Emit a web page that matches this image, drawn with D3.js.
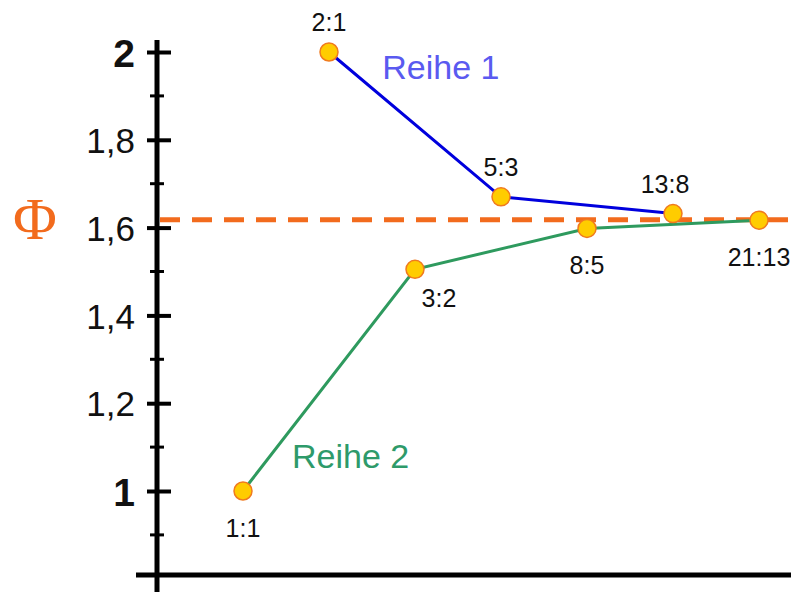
<!DOCTYPE html>
<html><head><meta charset="utf-8">
<script src="https://cdn.jsdelivr.net/npm/d3@7"></script>
<style>body{margin:0;background:#fff}svg{display:block}</style>
</head><body>
<svg id="c" width="799" height="592"></svg>
<script>
// Data
const series1Labels = ["2:1", "5:3", "13:8"];
const series1Index  = [2, 4, 6];
const series1Values = [2.0, 1.67, 1.632];

const series2Labels = ["1:1", "3:2", "8:5", "21:13"];
const series2Index  = [1, 3, 5, 7];
const series2Values = [1.0, 1.505, 1.598, 1.617];

const majorTicks = [1, 1.2, 1.4, 1.6, 1.8, 2];
const majorTickLabels = ["1", "1,2", "1,4", "1,6", "1,8", "2"];
const minorTicks = [0.9, 1.1, 1.3, 1.5, 1.7, 1.9];
const phiValue = 1.618;
const seriesNames = ["Reihe 1", "Reihe 2"];

const svg = d3.select("#c");
const x = d3.scaleLinear().domain([0, 7]).range([157, 759]);
const y = d3.scaleLinear().domain([1, 2]).range([491, 52]);

const FONT = "'Liberation Sans', Arial, sans-serif";

// phi line
svg.append("line")
  .attr("x1", 160).attr("x2", 799)
  .attr("y1", y(phiValue)).attr("y2", y(phiValue))
  .attr("stroke", "#F26B1D").attr("stroke-width", 5)
  .attr("stroke-dasharray", "20,12");
svg.append("text")
  .attr("x", 35).attr("y", y(phiValue) + 19)
  .attr("text-anchor", "middle")
  .attr("font-family", "'Liberation Serif', 'Times New Roman', serif")
  .attr("font-size", 60).attr("fill", "#F26B1D")
  .text("\u03A6");

// x axis line
svg.append("line")
  .attr("x1", 136).attr("x2", 791)
  .attr("y1", 575).attr("y2", 575)
  .attr("stroke", "#000").attr("stroke-width", 5);

// y axis
const yAxis = d3.axisLeft(y).tickValues(majorTicks)
  .tickFormat((d, i) => majorTickLabels[i]).tickSize(0).tickPadding(22);
const gy = svg.append("g").attr("transform", "translate(157,0)").call(yAxis);
gy.select(".domain").remove();
gy.selectAll(".tick text")
  .attr("font-family", FONT)
  .attr("fill", "#111")
  .attr("font-size", d => (d === 1 || d === 2) ? 39 : 35)
  .attr("font-weight", d => (d === 1 || d === 2) ? "bold" : "normal")
  .attr("dy", "0.36em");
gy.selectAll(".tick line")
  .attr("x1", -10).attr("x2", 14)
  .attr("stroke", "#000").attr("stroke-width", 4);

svg.append("line")
  .attr("x1", 157).attr("x2", 157)
  .attr("y1", 40).attr("y2", 592)
  .attr("stroke", "#000").attr("stroke-width", 5);

svg.append("g").selectAll("line").data(minorTicks).join("line")
  .attr("x1", 150).attr("x2", 164)
  .attr("y1", d => y(d)).attr("y2", d => y(d))
  .attr("stroke", "#000").attr("stroke-width", 3);

// series lines
const line = d3.line().x(d => x(d.i)).y(d => y(d.v));
const s1 = series1Index.map((i, k) => ({i, v: series1Values[k], label: series1Labels[k]}));
const s2 = series2Index.map((i, k) => ({i, v: series2Values[k], label: series2Labels[k]}));

svg.append("path").datum(s1).attr("d", line)
  .attr("fill", "none").attr("stroke", "#0000DD").attr("stroke-width", 3);
svg.append("path").datum(s2).attr("d", line)
  .attr("fill", "none").attr("stroke", "#2E9A5E").attr("stroke-width", 3);

// points
svg.append("g").selectAll("circle").data(s1.concat(s2)).join("circle")
  .attr("cx", d => x(d.i)).attr("cy", d => y(d.v)).attr("r", 9)
  .attr("fill", "#FFCC00").attr("stroke", "#F07A1E").attr("stroke-width", 1.5);

// point labels
svg.append("g").selectAll("text").data(s1).join("text")
  .attr("x", d => x(d.i) + (d.label === "13:8" ? -8 : 0))
  .attr("y", d => y(d.v) - 21)
  .attr("text-anchor", "middle")
  .attr("font-family", FONT).attr("font-size", 25).attr("fill", "#111")
  .text(d => d.label);
svg.append("g").selectAll("text").data(s2).join("text")
  .attr("x", d => x(d.i) + (d.label === "3:2" ? 24 : 0))
  .attr("y", d => y(d.v) + (d.label === "3:2" ? 38 : 46))
  .attr("text-anchor", "middle")
  .attr("font-family", FONT).attr("font-size", 25).attr("fill", "#111")
  .text(d => d.label);

// series names
svg.append("text").attr("x", x(2.62)).attr("y", y(1.938))
  .attr("font-family", FONT).attr("font-size", 34).attr("fill", "#5A5AF0")
  .text(seriesNames[0]);
svg.append("text").attr("x", x(1.57)).attr("y", y(1.052))
  .attr("font-family", FONT).attr("font-size", 34).attr("fill", "#2E9A6A")
  .text(seriesNames[1]);
</script>
</body></html>
